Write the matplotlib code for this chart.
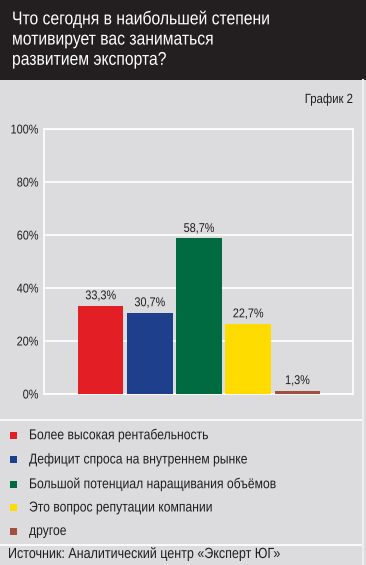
import matplotlib
matplotlib.use("Agg")
import matplotlib.pyplot as plt
from matplotlib.patches import Rectangle
from matplotlib.lines import Line2D
from matplotlib.patheffects import AbstractPathEffect
from matplotlib.transforms import Affine2D

# data
categories = ["Более высокая рентабельность",
              "Дефицит спроса на внутреннем рынке",
              "Большой потенциал наращивания объёмов",
              "Это вопрос репутации компании",
              "другое"]
values = [33.3, 30.7, 58.7, 26.5, 1.3]          # bar heights as drawn
value_labels = ["33,3%", "30,7%", "58,7%", "22,7%", "1,3%"]
colors = ["#e31e24", "#1e3f8c", "#006b40", "#ffdc00", "#a0503c"]
yticks = [0, 20, 40, 60, 80, 100]

title = "Что сегодня в наибольшей степени\nмотивирует вас заниматься\nразвитием экспорта?"
chart_no = "График 2"
source = "Источник: Аналитический центр «Эксперт ЮГ»"

plt.rcParams['font.family'] = ['Liberation Sans', 'DejaVu Sans']
SX = 0.85  # horizontal squeeze to mimic a condensed face
TXT = "#1e1e1e"


class Squeeze(AbstractPathEffect):
    """compress text horizontally around a fixed x (display pixels)"""
    def __init__(self, x0, sx=SX):
        super().__init__()
        self.x0, self.sx = x0, sx

    def draw_path(self, renderer, gc, tpath, affine, rgbFace=None):
        t = affine + Affine2D().translate(-self.x0, 0).scale(self.sx, 1).translate(self.x0, 0)
        renderer.draw_path(gc, tpath, t, rgbFace)


W, H = 366, 565
fig = plt.figure(figsize=(W / 100, H / 100), dpi=100, facecolor="#dcdcde")

def fx(px):
    return px / W

def fy(py):
    return 1 - py / H

def ftext(px, py, s, **kw):
    t = fig.text(fx(px), fy(py), s, **kw)
    t.set_path_effects([Squeeze(px)])
    return t

# dark header
fig.patches.append(Rectangle((0, fy(80)), 1, 80 / H, transform=fig.transFigure,
                             facecolor="#231f20", edgecolor="none", zorder=0))
ftext(12, 10, title, color="white", fontsize=13.3, va="top", ha="left", linespacing=1.25)
ftext(353, 100, chart_no, color=TXT, fontsize=9.6, ha="right", va="center")

# chart
ax_left, ax_right, ax_top, ax_bot = 44, 353, 129, 394
ax = fig.add_axes([fx(ax_left), fy(ax_bot), (ax_right - ax_left) / W, (ax_bot - ax_top) / H])
ax.set_facecolor("none")
x = list(range(len(values)))
ax.bar(x, values, width=0.93, color=colors, zorder=3)
ax.set_xlim(-1.15, 5.13)
ax.set_ylim(0, 100)
for xi, v, lab in zip(x, values, value_labels):
    t = ax.text(xi, v + 1.3, lab, ha="center", va="bottom", fontsize=9.2, color=TXT, zorder=4)
    t.set_path_effects([Squeeze(ax.transData.transform((xi, 0))[0])])
ax.set_yticks(yticks)
ax.set_yticklabels([f"{t}%" for t in yticks], fontsize=9.2, color=TXT)
ax.set_xticks([])
ax.tick_params(axis="y", length=0, pad=4)
for lab in ax.get_yticklabels():
    lab.set_path_effects([Squeeze(ax_left - 4 * 100 / 72)])
ax.grid(axis="y", color="white", linewidth=1.2, zorder=1)
for s in ax.spines.values():
    s.set_color("white")
    s.set_linewidth(1.2)

# separators
for py in (420, 545):
    fig.add_artist(Line2D([0, fx(363)], [fy(py), fy(py)], transform=fig.transFigure,
                          color="white", linewidth=1.2))
fig.add_artist(Line2D([fx(363), fx(363)], [0, fy(80)], transform=fig.transFigure,
                      color="#eeeeee", linewidth=1.5))

# legend
rows = [435, 459.5, 484, 507.5, 531]
for py, c, lab in zip(rows, colors, categories):
    fig.patches.append(Rectangle((fx(10), fy(py + 3.5)), 7 / W, 7 / H, transform=fig.transFigure,
                                 facecolor=c, edgecolor="none"))
    ftext(29, py, lab, fontsize=10.3, color=TXT, ha="left", va="center")

ftext(8, 554, source, fontsize=10.6, color=TXT, ha="left", va="center")

fig.savefig("out.png", dpi=100, facecolor=fig.get_facecolor())
